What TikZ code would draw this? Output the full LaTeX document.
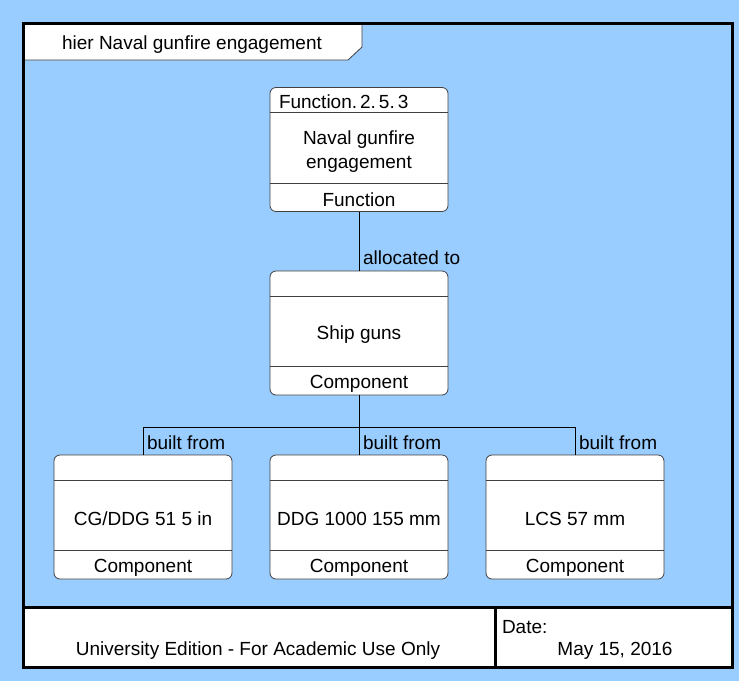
\documentclass[tikz,border=0pt]{standalone}
\usepackage{fontspec}
\setmainfont{Liberation Sans}
\begin{document}
\begin{tikzpicture}[x=1pt,y=-1pt,
  every node/.style={font=\fontsize{19}{22}\selectfont, inner sep=0pt, outer sep=0pt},
  classbox/.style={draw=black!75, fill=white, rounded corners=6pt, minimum width=178pt, minimum height=124pt, line width=0.8pt},
  divider/.style={draw=black!75, line width=0.8pt},
  conn/.style={draw=black, line width=0.9pt},
  frameline/.style={draw=black, line width=3pt}
]
\definecolor{bgblue}{RGB}{153,204,255}
\useasboundingbox (0,0) rectangle (739,681);
\fill[bgblue] (0,0) rectangle (739,681);

% footer
\fill[white] (23,607) rectangle (732,667);

% title tab
\draw[draw=black!75, fill=white, line width=0.8pt] (23,23) -- (362,23) -- (362,47) -- (348,60) -- (23,60) -- cycle;
\node (title) at (192,45) {hier Naval gunfire engagement};

% frame
\draw[frameline] (23,23) rectangle (732,667);
\draw[frameline] (23,607) -- (732,607);
\draw[frameline] (495,607) -- (495,667);
\node (edition) at (258,650.5) {University Edition - For Academic Use Only};
\node[anchor=west] (datelbl) at (502,627) {Date:};
\node (date) at (615,650.5) {May 15, 2016};

% boxes
\node[classbox] (f) at (359,149.5) {};
\node[classbox] (s) at (359,333) {};
\node[classbox] (b1) at (143,517) {};
\node[classbox] (b2) at (359,517) {};
\node[classbox] (b3) at (575,517) {};

\foreach \b in {f,s,b1,b2,b3}{
  \draw[divider] ([yshift=-25pt]\b.north west) -- ([yshift=-25pt]\b.north east);
  \draw[divider] ([yshift=28.5pt]\b.south west) -- ([yshift=28.5pt]\b.south east);
}
\node (fst) at ([yshift=11.5pt]f.south) {Function};
\node (sst) at ([yshift=11.5pt]s.south) {Component};
\node (b1st) at ([yshift=11.5pt]b1.south) {Component};
\node (b2st) at ([yshift=11.5pt]b2.south) {Component};
\node (b3st) at ([yshift=11.5pt]b3.south) {Component};

\node[anchor=west] (fid) at ([xshift=9pt,yshift=-14pt]f.north west) {Function.\kern3pt 2.\kern3pt 5.\kern3pt 3};
\node[align=center, font=\fontsize{19}{24}\selectfont] (fname) at (359,152) {Naval gunfire\\engagement};
\node (sname) at (359,335) {Ship guns};
\node (b1name) at (143,519) {CG/DDG 51 5 in};
\node (b2name) at (359,519) {DDG 1000 155 mm};
\node (b3name) at (575,519) {LCS 57 mm};

% connectors
\draw[conn] (f.south) -- (s.north) node[pos=0.78, anchor=west, xshift=4pt] {allocated to};
\coordinate (bus) at (359,427);
\draw[conn] (s.south) -- (bus);
\draw[conn] (bus) -| (b1.north);
\draw[conn] (bus) -| (b3.north);
\draw[conn] (bus) -- (b2.north);
\node[anchor=west] (l1) at ([xshift=4pt,yshift=12pt]b1.north) {built from};
\node[anchor=west] (l2) at ([xshift=4pt,yshift=12pt]b2.north) {built from};
\node[anchor=west] (l3) at ([xshift=4pt,yshift=12pt]b3.north) {built from};
\end{tikzpicture}
\end{document}
